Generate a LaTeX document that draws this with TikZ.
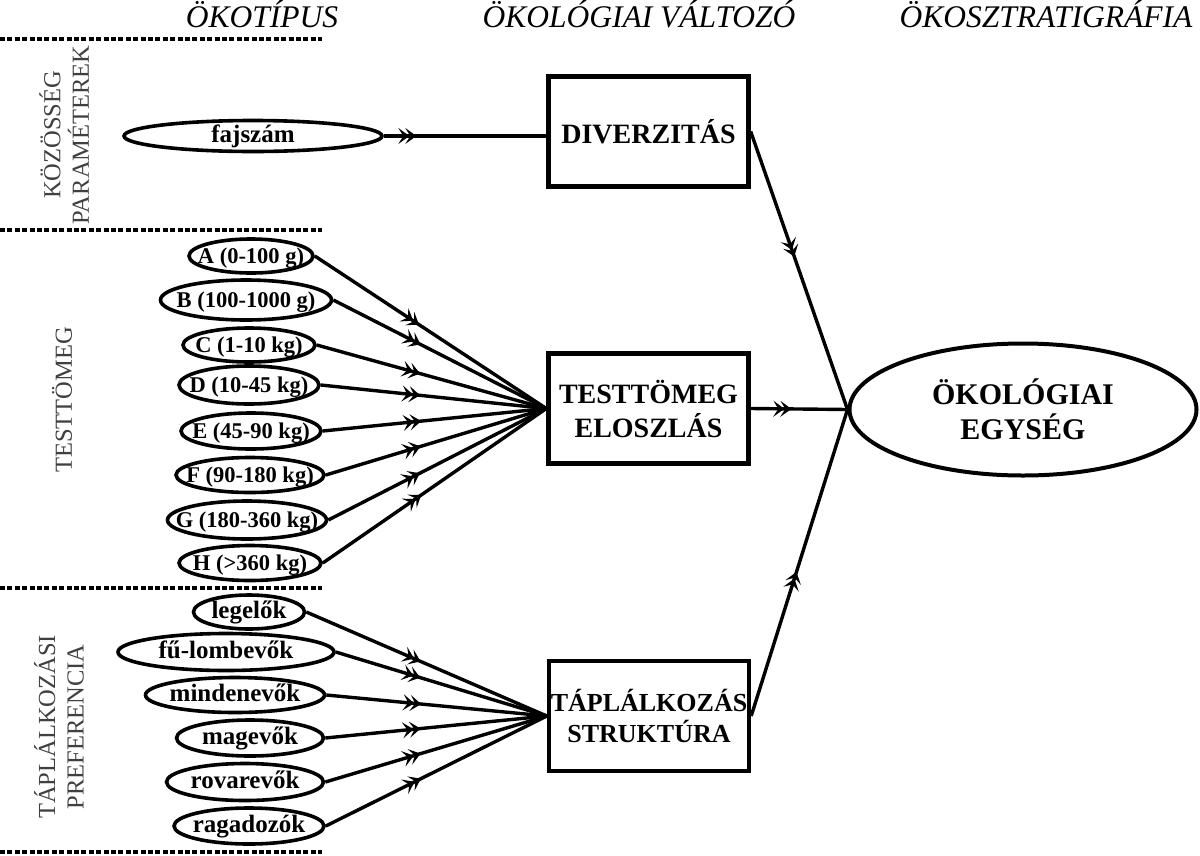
\documentclass[tikz,border=0pt]{standalone}
\usepackage{fontspec}
\setmainfont{Liberation Serif}
\usetikzlibrary{arrows.meta,decorations.markings,shapes.geometric}
\newcommand\mbz[1]{\makebox[0pt]{#1}}
\tikzset{
  hdr/.style={anchor=base, inner sep=0, font=\fontsize{31.5}{31.5}\selectfont\itshape},
  dashline/.style={line width=3.6pt, dash pattern=on 5pt off 2.4pt},
  side/.style={rotate=90, align=center, inner sep=0, text=black!75, font=\fontsize{24.5}{28.5}\selectfont},
  el/.style={draw, ellipse, line width=3.6pt, inner sep=0, text height=14pt, text depth=0pt, font=\fontsize{22.5}{22.5}\selectfont\bfseries},
  elw/.style={el, text height=12pt, font=\fontsize{25}{25}\selectfont\bfseries},
  box/.style={draw, rectangle, line width=4.4pt, inner sep=0, minimum width=200pt, minimum height=110pt, align=center, font=\fontsize{28}{34}\selectfont\bfseries},
  big/.style={draw, ellipse, line width=4pt, inner sep=0, minimum width=347pt, minimum height=132pt, align=center, font=\fontsize{30}{35}\selectfont\bfseries},
  conn/.style={line width=3.4pt},
  midarr/.style={postaction={decorate}, decoration={markings, mark=at position #1 with {\arrow{Stealth[length=11pt,width=16pt,inset=5pt,sep=-4pt] Stealth[length=11pt,width=16pt,inset=5pt]}}}}
}
\begin{document}
\begin{tikzpicture}[x=1pt,y=-1pt]
\useasboundingbox (0,0) rectangle (1200,855);
\fill[white] (0,0) rectangle (1200,855);
% headers
\node[hdr] (h1) at (262,27) {ÖKOTÍPUS};
\node[hdr] (h2) at (639,27) {ÖKOLÓGIAI VÁLTOZÓ};
\node[hdr] (h3) at (1046,27) {ÖKOSZTRATIGRÁFIA};
% dashed separators
\draw[dashline] (0,39) -- (322,39);
\draw[dashline] (0,230) -- (322,230);
\draw[dashline] (0,588) -- (322,588);
\draw[dashline] (0,852) -- (322,852);
% side labels
\node[side] (s1) at (64,135) {KÖZÖSSÉG\\PARAMÉTEREK};
\node[side] (s2) at (62,400) {TESTTÖMEG};
\node[side] (s3) at (59,727) {TÁPLÁLKOZÁSI\\PREFERENCIA};
% ellipses
\node[elw, minimum width=258pt, minimum height=31pt] (faj) at (253,136) {\mbz{fajszám}};
\node[el, minimum width=124pt, minimum height=34pt] (A) at (251,256) {\mbz{A (0-100 g)}};
\node[el, minimum width=171pt, minimum height=40pt] (B) at (246,300) {\mbz{B (100-1000 g)}};
\node[el, minimum width=132pt, minimum height=34pt] (C) at (249,345) {\mbz{C (1-10 kg)}};
\node[el, minimum width=140pt, minimum height=38pt] (D) at (249,385) {\mbz{D (10-45 kg)}};
\node[el, minimum width=140pt, minimum height=36pt] (E) at (251,431) {\mbz{E (45-90 kg)}};
\node[el, minimum width=148pt, minimum height=35pt] (F) at (250,475) {\mbz{F (90-180 kg)}};
\node[el, minimum width=159pt, minimum height=38pt] (G) at (247,520) {\mbz{G (180-360 kg)}};
\node[el, minimum width=142pt, minimum height=35pt] (H) at (250,563) {\mbz{H (>360 kg)}};
\node[elw, minimum width=111pt, minimum height=34pt] (p1) at (249,612) {\mbz{legelők}};
\node[elw, minimum width=216pt, minimum height=37pt] (p2) at (226,652) {\mbz{fű-lombevők}};
\node[elw, minimum width=179pt, minimum height=35pt] (p3) at (235,695) {\mbz{mindenevők}};
\node[elw, minimum width=147pt, minimum height=36pt] (p4) at (250,738) {\mbz{magevők}};
\node[elw, minimum width=157pt, minimum height=37pt] (p5) at (245,782) {\mbz{rovarevők}};
\node[elw, minimum width=150pt, minimum height=36pt] (p6) at (249,826) {\mbz{ragadozók}};
% boxes
\node[box] (div) at (648.5,131.5) {DIVERZITÁS};
\node[box] (test) at (648.5,408.5) {TESTTÖMEG\\ELOSZLÁS};
\node[box, font=\fontsize{26}{31}\selectfont\bfseries] (tap) at (649,716) {TÁPLÁLKOZÁS\\STRUKTÚRA};
% ecological unit
\node[big] (oko) at (1023,409.5) {ÖKOLÓGIAI\\EGYSÉG};
% connectors
\draw[conn, midarr=0.2] (faj.east) -- (faj.east -| div.west);
\draw[conn, midarr=0.45] (A.east) -- (test.west);
\draw[conn, midarr=0.41] (B.east) -- (test.west);
\draw[conn, midarr=0.45] (C.east) -- (test.west);
\draw[conn, midarr=0.44] (D.east) -- (test.west);
\draw[conn, midarr=0.44] (E.east) -- (test.west);
\draw[conn, midarr=0.43] (F.east) -- (test.west);
\draw[conn, midarr=0.42] (G.east) -- (test.west);
\draw[conn, midarr=0.44] (H.east) -- (test.west);
\draw[conn, midarr=0.475] (p1.east) -- (tap.west);
\draw[conn, midarr=0.40] (p2.east) -- (tap.west);
\draw[conn, midarr=0.43] (p3.east) -- (tap.west);
\draw[conn, midarr=0.43] (p4.east) -- (tap.west);
\draw[conn, midarr=0.43] (p5.east) -- (tap.west);
\draw[conn, midarr=0.43] (p6.east) -- (tap.west);
\draw[conn, midarr=0.45] (div.east) -- (oko.west);
\draw[conn, midarr=0.42] (test.east) -- (oko.west);
\draw[conn, midarr=0.47] (tap.east) -- (oko.west);
\end{tikzpicture}
\end{document}
